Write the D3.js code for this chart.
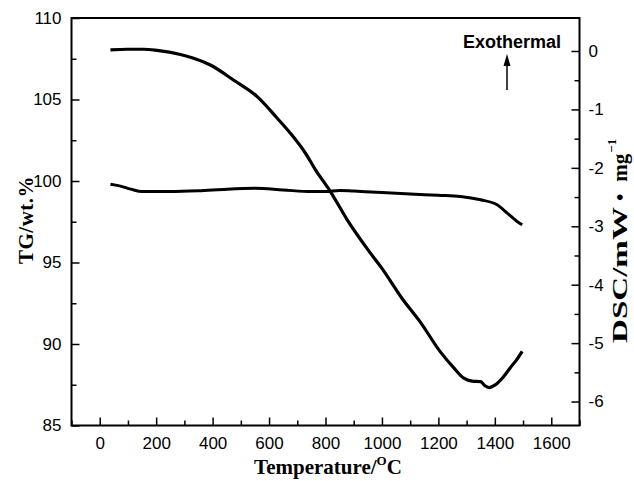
<!DOCTYPE html>
<html lang="en">
<head>
<meta charset="UTF-8" />
<title>TG-DSC</title>
<style>
  body { margin: 0; background: #fff; }
  svg { display: block; }
</style>
</head>
<body>
<svg id="chart" width="634" height="481"></svg>
<script src="https://d3js.org/d3.v7.min.js"></script>
<script>
// DSC curve (right axis, mW/mg)
const dscTemp = [38, 97, 156, 203, 286, 330, 392, 475, 558, 629, 676, 729, 764, 818, 877, 950, 1000, 1072, 1136, 1207, 1254, 1290, 1320, 1350, 1365, 1380, 1400, 1430, 1455, 1475, 1497];
const dscVal = [0.02, 0.03, 0.03, 0.01, -0.06, -0.12, -0.24, -0.50, -0.78, -1.15, -1.41, -1.75, -2.03, -2.41, -2.89, -3.40, -3.72, -4.24, -4.64, -5.15, -5.42, -5.60, -5.65, -5.66, -5.73, -5.76, -5.72, -5.58, -5.42, -5.30, -5.14];

// TG curve (left axis, wt.%)
const tgTemp = [38, 70, 110, 150, 250, 350, 450, 550, 650, 750, 800, 850, 900, 1000, 1100, 1200, 1278, 1349, 1408, 1444, 1479, 1497];
const tgVal = [99.8, 99.7, 99.5, 99.35, 99.35, 99.4, 99.5, 99.55, 99.45, 99.35, 99.35, 99.42, 99.38, 99.3, 99.2, 99.12, 99.05, 98.85, 98.54, 98.03, 97.52, 97.32];

const xTicks = [0, 200, 400, 600, 800, 1000, 1200, 1400, 1600];
const tgTicks = [85, 90, 95, 100, 105, 110];
const dscTicks = [0, -1, -2, -3, -4, -5, -6];

const width = 634;
const height = 481;
const plotL = 71.5, plotR = 579.5, plotT = 18, plotB = 425.5;

const svg = d3.select('#chart');

// Scales
const x = d3.scaleLinear().domain([-100, 1700]).range([plotL, plotR]);
const yTG = d3.scaleLinear().domain([85, 110]).range([plotB, plotT]);
const yDSC = d3.scaleLinear().domain([-6.41, 0.565]).range([plotB, plotT]);

const tickFont = '"Liberation Sans", Arial, sans-serif';
const titleFont = '"Liberation Serif", "Times New Roman", serif';

function styleAxis(g) {
  g.select('.domain').remove();
  g.selectAll('line').attr('stroke', '#000').attr('stroke-width', 1.5);
  g.selectAll('text').attr('font-family', tickFont).attr('font-size', 17).attr('fill', '#000');
}

// minor ticks
svg.append('g')
  .attr('transform', `translate(0,${plotB})`)
  .call(d3.axisBottom(x).tickValues(d3.range(-100, 1701, 200)).tickSize(-5).tickFormat(''))
  .call(styleAxis);
svg.append('g')
  .attr('transform', `translate(${plotL},0)`)
  .call(d3.axisLeft(yTG).tickValues(d3.range(87.5, 110, 5)).tickSize(-5).tickFormat(''))
  .call(styleAxis);
svg.append('g')
  .attr('transform', `translate(${plotR},0)`)
  .call(d3.axisRight(yDSC).tickValues(d3.range(-5.5, 0.1, 1)).tickSize(-5).tickFormat(''))
  .call(styleAxis);

// major ticks
svg.append('g')
  .attr('transform', `translate(0,${plotB})`)
  .call(d3.axisBottom(x).tickValues(xTicks).tickSize(-8).tickPadding(11).tickFormat(d3.format('d')))
  .call(styleAxis);
svg.append('g')
  .attr('transform', `translate(${plotL},0)`)
  .call(d3.axisLeft(yTG).tickValues(tgTicks).tickSize(-8).tickPadding(10).tickFormat(d3.format('d')))
  .call(styleAxis);
svg.append('g')
  .attr('transform', `translate(${plotR},0)`)
  .call(d3.axisRight(yDSC).tickValues(dscTicks).tickSize(-8).tickPadding(9).tickFormat(d => d3.format('d')(d).replace('\u2212', '-')))
  .call(styleAxis);

// frame
svg.append('rect')
  .attr('x', plotL).attr('y', plotT)
  .attr('width', plotR - plotL).attr('height', plotB - plotT)
  .attr('fill', 'none').attr('stroke', '#000').attr('stroke-width', 2);

// curves
const lineTG = d3.line().x((d, i) => x(tgTemp[i])).y(d => yTG(d)).curve(d3.curveMonotoneX);
const lineDSC = d3.line().x((d, i) => x(dscTemp[i])).y(d => yDSC(d)).curve(d3.curveMonotoneX);

svg.append('path').attr('d', lineTG(tgVal))
  .attr('fill', 'none').attr('stroke', '#000').attr('stroke-width', 3).attr('stroke-linejoin', 'round');
svg.append('path').attr('d', lineDSC(dscVal))
  .attr('fill', 'none').attr('stroke', '#000').attr('stroke-width', 3.2).attr('stroke-linejoin', 'round');

// axis titles
svg.append('text')
  .attr('transform', `translate(33,220) rotate(-90)`)
  .attr('text-anchor', 'middle')
  .attr('font-family', titleFont).attr('font-weight', 'bold').attr('font-size', 21)
  .attr('letter-spacing', 0.5)
  .text('TG/wt.%');

const dscTitle = svg.append('text')
  .attr('transform', `translate(627,343) rotate(-90)`)
  .attr('text-anchor', 'start')
  .attr('font-family', titleFont).attr('font-weight', 'bold').attr('font-size', 21);
dscTitle.append('tspan').attr('textLength', 136).attr('lengthAdjust', 'spacingAndGlyphs').text('DSC/mW');
dscTitle.append('tspan').attr('dx', 6).text('\u2022');
dscTitle.append('tspan').attr('dx', 12).text('mg');
dscTitle.append('tspan').attr('dy', -11).attr('dx', 1).attr('font-size', 13).text('\u22121');

const xTitle = svg.append('text')
  .attr('x', 328).attr('y', 474)
  .attr('text-anchor', 'middle')
  .attr('font-family', titleFont).attr('font-weight', 'bold').attr('font-size', 21);
xTitle.append('tspan').text('Temperature/');
xTitle.append('tspan').attr('dy', -9).attr('font-size', 13).text('O');
xTitle.append('tspan').attr('dy', 9).text('C');

// annotation
svg.append('text')
  .attr('x', 463).attr('y', 48)
  .attr('font-family', tickFont).attr('font-weight', 'bold').attr('font-size', 18)
  .text('Exothermal');

svg.append('line')
  .attr('x1', 507).attr('y1', 90).attr('x2', 507).attr('y2', 62)
  .attr('stroke', '#000').attr('stroke-width', 1.5);
svg.append('path')
  .attr('d', 'M507,54 L503.5,66 L510.5,66 Z')
  .attr('fill', '#000');
</script>
</body>
</html>
